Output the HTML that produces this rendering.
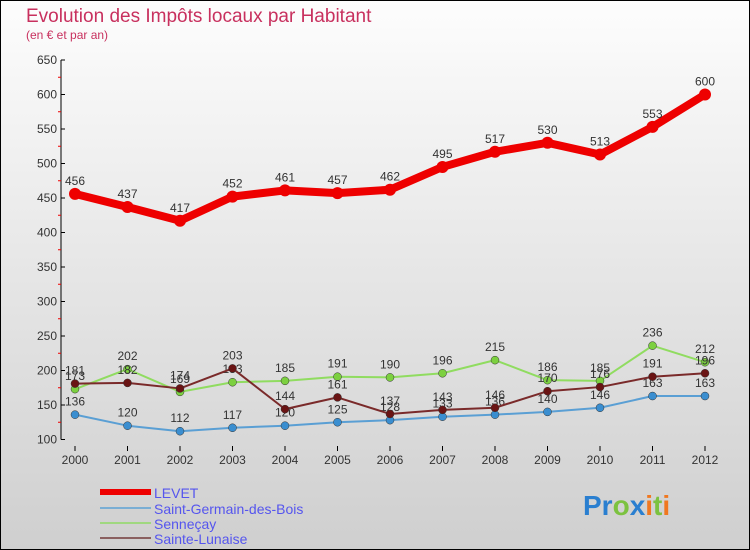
<!DOCTYPE html>
<html><head><meta charset="utf-8"><style>
body{margin:0;width:750px;height:550px;overflow:hidden;font-family:"Liberation Sans",sans-serif}
svg{display:block}
text{font-family:"Liberation Sans",sans-serif}
</style></head><body>
<svg id="chart" width="750" height="550" xmlns="http://www.w3.org/2000/svg">
<defs><linearGradient id="bg" x1="0" y1="0" x2="0" y2="1"><stop offset="0" stop-color="#fdfdfd"/><stop offset="1" stop-color="#cfcfcf"/></linearGradient></defs>
<rect x="0.5" y="0.5" width="749" height="549" fill="url(#bg)" stroke="#000" stroke-width="1"/>
<text x="26" y="22" font-size="19" fill="#c8305e">Evolution des Impôts locaux par Habitant</text>
<text x="26" y="39" font-size="12" fill="#c8305e">(en € et par an)</text>
<g id="axes"></g><g id="series"></g><g id="legend"></g>
<text x="583" y="515" font-size="28" font-weight="bold"><tspan fill="#2a7fd0">Pr</tspan><tspan fill="#7cc240">o</tspan><tspan fill="#2a7fd0">x</tspan><tspan fill="#f07820">i</tspan><tspan fill="#7cc240">t</tspan><tspan fill="#f07820">i</tspan></text>
</svg>
<script>
const years=[2000,2001,2002,2003,2004,2005,2006,2007,2008,2009,2010,2011,2012];
const yTicks=[100,150,200,250,300,350,400,450,500,550,600,650];
const levet=[456,437,417,452,461,457,462,495,517,530,513,553,600];
const sgdb=[136,120,112,117,120,125,128,133,136,140,146,163,163];
const sennecay=[173,202,169,183,185,191,190,196,215,186,185,236,212];
const lunaise=[181,182,174,203,144,161,137,143,146,170,176,191,196];
const NS='http://www.w3.org/2000/svg';
const X=i=>75+i*52.5;
const Y=v=>60+(650-v)*0.69;
function mk(tag,attrs,parent){const e=document.createElementNS(NS,tag);for(const k in attrs)e.setAttribute(k,attrs[k]);parent.appendChild(e);return e;}
const ax=document.getElementById('axes');
const yl=mk('line',{x1:61,y1:Y(650),x2:61,y2:Y(100),stroke:'#000'},ax);


yTicks.forEach((t,i)=>{
  mk('line',{x1:61,y1:Y(t),x2:65,y2:Y(t),stroke:'#000'},ax);
  if(i<yTicks.length-1) mk('line',{x1:58,y1:Y(t+25),x2:61,y2:Y(t+25),stroke:'#e00'},ax);
  const tx=mk('text',{x:57,y:Y(t)+4,'font-size':12,fill:'#333','text-anchor':'end'},ax);
  
  
  tx.textContent=t;
});
years.forEach((yr,i)=>{
  mk('line',{x1:X(i),y1:446,x2:X(i),y2:451,stroke:'#000'},ax);
  const tx=mk('text',{x:X(i),y:464,'font-size':12,fill:'#333','text-anchor':'middle'},ax);
  
  
  tx.textContent=yr;
});
const sg=document.getElementById('series');
const series=[
 {name:'sgdb',data:sgdb,color:'#5a9fd4',dot:'#3a8ed0',w:2,r:4},
 {name:'sennecay',data:sennecay,color:'#90dc60',dot:'#7cd040',w:2,r:4},
 {name:'lunaise',data:lunaise,color:'#7a2a2a',dot:'#6a1414',w:2,r:4},
 {name:'levet',data:levet,color:'#ee0000',dot:'#ee0000',w:8,r:6}
];
series.forEach(s=>{
  const pl=mk('polyline',{points:s.data.map((v,i)=>X(i)+','+Y(v)).join(' '),fill:'none',stroke:s.color,'stroke-width':s.w,'stroke-linejoin':'round'},sg);
  
  
  s.data.forEach((v,i)=>{
    const c=mk('circle',{cx:X(i),cy:Y(v),r:s.r,fill:s.dot,stroke:s.name==='levet'?'none':'#333','stroke-width':0.5},sg);
    
    
    const t=mk('text',{x:X(i),y:Y(v)-9,'font-size':12,fill:'#333','text-anchor':'middle'},sg);
    
    
    t.textContent=v;
  });
});
const lg=document.getElementById('legend');
const leg=[['LEVET','#ee0000',6,492],['Saint-Germain-des-Bois','#7aaed4',2,508],['Senneçay','#a0d880',2,523],['Sainte-Lunaise','#8a6060',2,538]];
leg.forEach(l=>{
  const ln=mk('line',{x1:100,y1:l[3],x2:151,y2:l[3],stroke:l[1],'stroke-width':l[2]},lg);
  
  
  const t=mk('text',{x:154,y:l[3]+6,'font-size':14,fill:'#5555ee'},lg);
  
  
  t.textContent=l[0];
});
</script>
</body></html>
